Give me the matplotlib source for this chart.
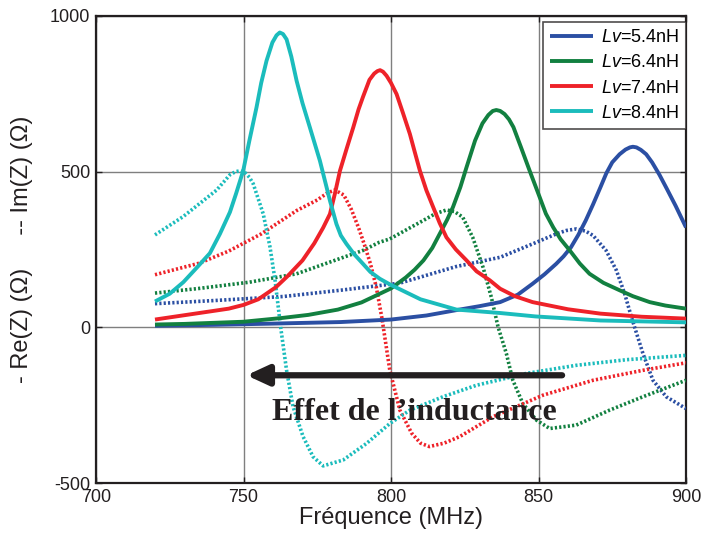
import matplotlib
matplotlib.use("Agg")
import matplotlib.pyplot as plt

plt.rcParams['font.family'] = ['Liberation Sans', 'DejaVu Sans']
plt.rcParams['mathtext.fontset'] = 'custom'
plt.rcParams['mathtext.it'] = 'Liberation Sans:italic'
plt.rcParams['mathtext.rm'] = 'Liberation Sans'
plt.rcParams['axes.unicode_minus'] = False

# ---------------- data ----------------
labels = [r"$\mathit{Lv}$=5.4nH", r"$\mathit{Lv}$=6.4nH", r"$\mathit{Lv}$=7.4nH", r"$\mathit{Lv}$=8.4nH"]
colors = ["#2b4fa3", "#128040", "#ee2229", "#1bbcbc"]

# Real part (solid)
re_f_54 = [720, 740, 760, 783, 800, 812, 822, 830, 837, 843, 848, 852, 856, 858.5, 861, 863.5, 866, 868.5, 871,
           873, 875, 877.5, 879.5, 881, 882, 883.2, 884.7, 886.5, 888.5, 891, 893.5, 896.5, 900]
re_v_54 = [5, 8, 12, 17, 25, 38, 55, 68, 81, 105, 140, 170, 204, 228, 257, 297, 343, 395, 450,
           495, 530, 556, 571, 578, 580, 578, 570, 556, 530, 490, 445, 390, 321]

re_f_64 = [720, 730, 750, 763, 772, 782, 790, 800, 805, 808, 811, 814, 816.5, 819, 821, 823.5, 825.6, 828.5,
           831, 833, 834.5, 835.7, 837, 838.5, 840, 841.5, 844, 847, 850.4, 852.5, 855, 857.5, 860.6, 864, 867.3,
           872, 877.5, 882, 887.7, 893, 900]
re_v_64 = [9, 11, 18, 30, 40, 57, 80, 125, 160, 185, 215, 255, 300, 345, 386, 450, 514, 600,
           655, 682, 695, 698, 695, 685, 668, 643, 580, 503, 418, 365, 321, 283, 247, 205, 172,
           143, 119, 100, 81, 70, 60]

re_f_74 = [720, 735, 745, 750, 755, 761, 765, 770, 774, 777, 779.3, 781, 782.7, 785, 787.2, 789, 790.5, 792.7,
           794.3, 795.4, 796.3, 797.3, 798.5, 800, 801.9, 804, 806.4, 808, 809.8, 812, 814.3, 816.5, 818.8, 822,
           825.6, 829, 833.5, 837, 842, 848, 860, 871, 885, 900]
re_v_74 = [25, 46, 60, 72, 90, 129, 165, 215, 270, 320, 364, 430, 503, 575, 642, 700, 740, 795,
           815, 823, 826, 821, 808, 785, 749, 690, 621, 565, 503, 440, 386, 335, 289, 250,
           215, 180, 151, 124, 100, 81, 58, 44, 34, 28]

re_f_84 = [720, 725, 729.6, 734, 738.6, 742, 745.4, 747.5, 749.9, 752, 754.4, 756, 757.8, 759.8, 761.2, 762.3,
           763.4, 764.6, 766.2, 768, 770, 772.5, 775.9, 779.3, 781.5, 783, 784.9, 787.5, 790.5, 793, 796.2, 799.6,
           810, 822.2, 837, 849, 871, 900]
re_v_84 = [83, 108, 145, 190, 238, 300, 370, 430, 503, 600, 706, 785, 856, 915, 938, 947,
           942, 925, 870, 792, 720, 642, 535, 407, 332, 295, 268, 235, 204, 178, 156, 138,
           90, 57, 46, 35, 22, 16]

# Imaginary part (dotted)
im_f_54 = [720, 740, 763.5, 782.7, 803, 822, 837, 848, 856, 859.4, 862.8, 866, 868.5, 872.9, 876.4, 879.2,
           881.5, 882.6, 885.4, 888.8, 893.3, 900]
im_v_54 = [76, 86, 99, 119, 142, 195, 225, 268, 300, 311, 316, 309, 295, 247, 183, 108,
           33, 0, -84, -170, -223, -261]

im_f_64 = [720, 735, 752, 768, 790.5, 796, 799.6, 810.9, 815, 818.8, 821.5, 824.3, 827.7, 831.2, 834, 836.3,
           839.1, 841.3, 844.7, 849.3, 853.8, 862.8, 874.1, 885.4, 900]
im_v_64 = [110, 125, 145, 172, 247, 273, 284, 343, 365, 377, 372, 354, 289, 193, 97, 1,
           -84, -170, -245, -298, -325, -314, -266, -223, -170]

im_f_74 = [720, 735, 745, 756, 768, 775, 778.5, 781, 784, 786.5, 789, 791, 793, 795, 797, 799.6, 803, 807, 810,
           813, 818, 823.3, 834.6, 851.5, 868.5, 885.4, 900]
im_v_74 = [169, 206, 245, 300, 375, 409, 432, 441, 425, 380, 320, 265, 205, 130, 25, -138, -266, -340, -372,
           -383, -372, -351, -287, -218, -170, -138, -114]

im_f_84 = [720, 729.6, 740.9, 745.4, 747.3, 749, 750.5, 752, 753.3, 756.7, 759, 760.7, 762.6, 764.6, 766.8,
           770.2, 773.6, 777, 783.8, 791.7, 799.6, 806.4, 817.6, 829, 845.9, 862.8, 879.8, 900]
im_v_84 = [297, 356, 441, 490, 500, 503, 497, 482, 461, 364, 257, 151, 0, -138, -255,
           -351, -416, -445, -426, -373, -309, -266, -223, -186, -148, -122, -104, -90]

re_f = [re_f_54, re_f_64, re_f_74, re_f_84]
re_v = [re_v_54, re_v_64, re_v_74, re_v_84]
im_f = [im_f_54, im_f_64, im_f_74, im_f_84]
im_v = [im_v_54, im_v_64, im_v_74, im_v_84]

x_ticks = [700, 750, 800, 850, 900]
y_ticks = [-500, 0, 500, 1000]

arrow_from = (858, -154)
arrow_to = (751, -154)
annot_text = "Effet de l\u2019inductance"
annot_pos = (759.5, -298)

# ---------------- figure ----------------
fig = plt.figure(figsize=(7.02, 5.40), dpi=100)
ax = fig.add_axes([96 / 702, 57 / 540, 590 / 702, 467 / 540])

for f, v, c in zip(im_f, im_v, colors):
    ax.plot(f, v, color=c, lw=2.6, linestyle=(0, (0.6, 0.6)), dash_joinstyle='round', zorder=3)

handles = []
for f, v, c, lab in zip(re_f, re_v, colors, labels):
    h, = ax.plot(f, v, color=c, lw=2.8, solid_capstyle='butt', solid_joinstyle='round', zorder=4, label=lab)
    handles.append(h)

ax.set_xlim(700, 900)
ax.set_ylim(-500, 1000)
ax.set_xticks(x_ticks)
ax.set_yticks(y_ticks)
ax.grid(True, color='#7f7f7f', lw=1.0, zorder=1)
ax.set_axisbelow(True)
ax.tick_params(direction='in', length=4, width=1, top=True, right=True,
               labelsize=13, colors='#231f20', pad=4)
for s in ax.spines.values():
    s.set_linewidth(1.6)
    s.set_color('#231f20')

ax.set_xlabel("Fréquence (MHz)", fontsize=17, color='#231f20', labelpad=1)
ax.set_ylabel("- Re(Z) (\u03a9)     -- Im(Z) (\u03a9)", fontsize=17, color='#231f20', labelpad=12)

leg = ax.legend(handles=handles, loc='upper right', bbox_to_anchor=(1.0, 0.987),
                borderaxespad=0.0, fontsize=13, handlelength=2.4, handletextpad=0.4,
                labelspacing=0.45, borderpad=0.4, frameon=True, fancybox=False)
leg.get_frame().set_edgecolor('#231f20')
leg.get_frame().set_linewidth(1.2)
leg.set_zorder(6)

ax.annotate("", xy=arrow_to, xytext=arrow_from,
            arrowprops=dict(arrowstyle='-|>,head_length=0.65,head_width=0.3', lw=4.5,
                            color='#231f20', shrinkA=0, shrinkB=0, mutation_scale=20),
            zorder=5)
ax.text(annot_pos[0], annot_pos[1], annot_text, fontsize=23, fontweight='bold',
        family=['Liberation Serif', 'DejaVu Serif'], color='#231f20',
        ha='left', va='baseline', zorder=5)

fig.savefig("out.png", dpi=100)
